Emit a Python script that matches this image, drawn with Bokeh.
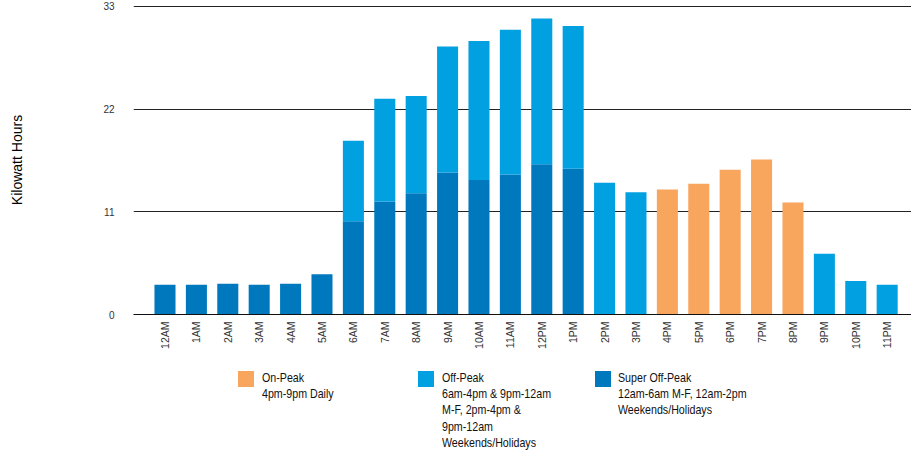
import math
from bokeh.plotting import figure
from bokeh.models import Range1d, FixedTicker, Div, ColumnDataSource
from bokeh.layouts import column
from bokeh.embed import file_html
from bokeh.resources import INLINE

hours = ["12AM", "1AM", "2AM", "3AM", "4AM", "5AM", "6AM", "7AM", "8AM", "9AM", "10AM", "11AM",
         "12PM", "1PM", "2PM", "3PM", "4PM", "5PM", "6PM", "7PM", "8PM", "9PM", "10PM", "11PM"]
super_off_peak = [3.2, 3.2, 3.3, 3.2, 3.3, 4.3, 10.0, 12.1, 13.0, 15.2, 14.4, 15.0,
                  16.1, 15.6, 0, 0, 0, 0, 0, 0, 0, 0, 0, 0]
off_peak = [0, 0, 0, 0, 0, 0, 8.6, 11.0, 10.4, 13.5, 14.9, 15.5,
            15.6, 15.3, 14.1, 13.1, 0, 0, 0, 0, 0, 6.5, 3.6, 3.2]
on_peak = [0, 0, 0, 0, 0, 0, 0, 0, 0, 0, 0, 0,
           0, 0, 0, 0, 13.4, 14.0, 15.5, 16.6, 12.0, 0, 0, 0]
y_ticks = [0, 11, 22, 33]

C_SUPER = "#0078BE"
C_OFF = "#00A0E1"
C_ON = "#F8A65D"

x = list(range(len(hours)))
src = ColumnDataSource(dict(x=x, sup=super_off_peak, off=off_peak, on=on_peak))

p = figure(width=911, height=368, output_backend="svg", toolbar_location=None,
           x_range=Range1d(-1.003, 23.775), y_range=Range1d(0, 33.1),
           min_border_left=133, min_border_right=0, min_border_top=5, min_border_bottom=54)
p.outline_line_color = None

p.vbar_stack(["sup", "off", "on"], x="x", width=0.67, source=src,
             color=[C_SUPER, C_OFF, C_ON], line_color=None)

p.xgrid.grid_line_color = None
p.ygrid.ticker = FixedTicker(ticks=y_ticks)
p.ygrid.grid_line_color = "#222222"
p.ygrid.grid_line_width = 1

p.yaxis.ticker = FixedTicker(ticks=y_ticks)
p.yaxis.axis_line_color = None
p.yaxis.major_tick_line_color = None
p.yaxis.minor_tick_line_color = None
p.yaxis.major_tick_out = 0
p.yaxis.major_label_standoff = 19
p.yaxis.major_label_text_font = "Liberation Sans"
p.yaxis.major_label_text_font_size = "10px"
p.yaxis.major_label_text_color = "#333333"
p.yaxis.axis_label = "Kilowatt Hours"
p.yaxis.axis_label_text_font = "Liberation Sans"
p.yaxis.axis_label_text_font_size = "14px"
p.yaxis.axis_label_text_font_style = "normal"
p.yaxis.axis_label_text_color = "#000000"
p.yaxis.axis_label_standoff = 75

p.xaxis.ticker = FixedTicker(ticks=x)
p.xaxis.major_label_overrides = {i: h for i, h in enumerate(hours)}
p.xaxis.major_label_orientation = math.pi / 2
p.xaxis.axis_line_color = "#111111"
p.xaxis.major_tick_line_color = None
p.xaxis.minor_tick_line_color = None
p.xaxis.major_tick_out = 0
p.xaxis.major_label_standoff = 7
p.xaxis.major_label_text_font = "Liberation Sans"
p.xaxis.major_label_text_font_size = "10.5px"
p.xaxis.major_label_text_color = "#333333"

font = ("font-family:'Liberation Sans',Arial,sans-serif;font-size:13px;line-height:16.2px;color:#111;"
        "transform:scaleX(0.82);transform-origin:0 0;")

def item(sw_left, txt_left, color, lines):
    sw = f'<div style="position:absolute;left:{sw_left}px;top:-2px;width:16px;height:16px;background:{color};"></div>'
    tx = f'<div style="position:absolute;left:{txt_left}px;top:-3px;white-space:nowrap;{font}">' + "<br>".join(lines) + "</div>"
    return sw + tx

legend_html = ('<div style="position:relative;width:903px;height:76px;overflow:visible;">'
               + item(233, 257, C_ON, ["On-Peak", "4pm-9pm Daily"])
               + item(413, 437, C_OFF, ["Off-Peak", "6am-4pm &amp; 9pm-12am", "M-F, 2pm-4pm &amp;", "9pm-12am", "Weekends/Holidays"])
               + item(590, 613, C_SUPER, ["Super Off-Peak", "12am-6am M-F, 12am-2pm", "Weekends/Holidays"])
               + '</div>')
div = Div(text=legend_html, width=911, height=82, styles={"overflow": "visible"})

layout = column(p, div, spacing=0)
open("out.html", "w").write(file_html(layout, INLINE))
